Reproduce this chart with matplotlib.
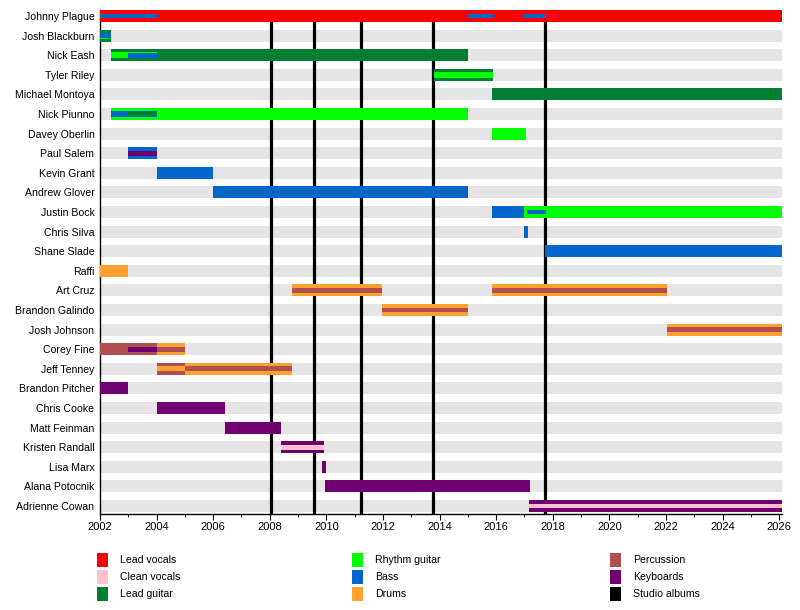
import numpy as np
import matplotlib
matplotlib.use('Agg')
import matplotlib.pyplot as plt
from matplotlib.patches import Rectangle

plt.rcParams['font.family'] = ['Liberation Sans', 'DejaVu Sans']

# band members, top to bottom
members = ['Johnny Plague', 'Josh Blackburn', 'Nick Eash', 'Tyler Riley',
           'Michael Montoya', 'Nick Piunno', 'Davey Oberlin', 'Paul Salem',
           'Kevin Grant', 'Andrew Glover', 'Justin Bock', 'Chris Silva',
           'Shane Slade', 'Raffi', 'Art Cruz', 'Brandon Galindo',
           'Josh Johnson', 'Corey Fine', 'Jeff Tenney', 'Brandon Pitcher',
           'Chris Cooke', 'Matt Feinman', 'Kristen Randall', 'Lisa Marx',
           'Alana Potocnik', 'Adrienne Cowan']

START = 2002.0
PRESENT = 2026.1

# main role (full bar): member, role, from, to
main_bars = [
    ('Johnny Plague', 'Lead vocals', 2002.0, PRESENT),
    ('Josh Blackburn', 'Lead guitar', 2002.0, 2002.4),
    ('Nick Eash', 'Lead guitar', 2002.4, 2015.0),
    ('Tyler Riley', 'Lead guitar', 2013.8, 2015.9),
    ('Michael Montoya', 'Lead guitar', 2015.85, PRESENT),
    ('Nick Piunno', 'Rhythm guitar', 2002.4, 2015.0),
    ('Davey Oberlin', 'Rhythm guitar', 2015.85, 2017.05),
    ('Paul Salem', 'Bass', 2003.0, 2004.0),
    ('Kevin Grant', 'Bass', 2004.0, 2006.0),
    ('Andrew Glover', 'Bass', 2006.0, 2015.0),
    ('Justin Bock', 'Bass', 2015.85, 2017.0),
    ('Justin Bock', 'Rhythm guitar', 2017.0, PRESENT),
    ('Chris Silva', 'Bass', 2017.0, 2017.12),
    ('Shane Slade', 'Bass', 2017.72, PRESENT),
    ('Raffi', 'Drums', 2002.0, 2003.0),
    ('Art Cruz', 'Drums', 2008.8, 2011.97),
    ('Art Cruz', 'Drums', 2015.85, 2022.05),
    ('Brandon Galindo', 'Drums', 2011.97, 2015.0),
    ('Josh Johnson', 'Drums', 2022.05, PRESENT),
    ('Corey Fine', 'Percussion', 2002.0, 2004.0),
    ('Corey Fine', 'Drums', 2004.0, 2005.0),
    ('Jeff Tenney', 'Percussion', 2004.0, 2005.0),
    ('Jeff Tenney', 'Drums', 2005.0, 2008.8),
    ('Brandon Pitcher', 'Keyboards', 2002.0, 2003.0),
    ('Chris Cooke', 'Keyboards', 2004.0, 2006.4),
    ('Matt Feinman', 'Keyboards', 2006.4, 2008.4),
    ('Kristen Randall', 'Keyboards', 2008.4, 2009.9),
    ('Lisa Marx', 'Keyboards', 2009.85, 2010.0),
    ('Alana Potocnik', 'Keyboards', 2009.95, 2017.2),
    ('Adrienne Cowan', 'Keyboards', 2017.15, PRESENT),
]

# second role (wide inner stripe)
second_bars = [
    ('Josh Blackburn', 'Rhythm guitar', 2002.0, 2002.4),
    ('Nick Eash', 'Rhythm guitar', 2002.4, 2004.0),
    ('Tyler Riley', 'Rhythm guitar', 2013.8, 2015.9),
    ('Nick Piunno', 'Bass', 2002.4, 2004.0),
]

# third role (thin inner stripe)
third_bars = [
    ('Johnny Plague', 'Bass', 2002.0, 2004.0),
    ('Johnny Plague', 'Bass', 2015.0, 2015.9),
    ('Johnny Plague', 'Bass', 2017.0, 2017.75),
    ('Josh Blackburn', 'Bass', 2002.0, 2002.4),
    ('Nick Eash', 'Bass', 2003.0, 2004.0),
    ('Nick Piunno', 'Lead guitar', 2003.0, 2004.0),
    ('Paul Salem', 'Keyboards', 2003.0, 2004.0),
    ('Justin Bock', 'Bass', 2017.1, 2017.75),
    ('Art Cruz', 'Percussion', 2008.8, 2011.97),
    ('Art Cruz', 'Percussion', 2015.85, 2022.05),
    ('Brandon Galindo', 'Percussion', 2011.97, 2015.0),
    ('Josh Johnson', 'Percussion', 2022.05, PRESENT),
    ('Corey Fine', 'Keyboards', 2003.0, 2004.0),
    ('Corey Fine', 'Percussion', 2004.0, 2005.0),
    ('Jeff Tenney', 'Drums', 2004.0, 2005.0),
    ('Jeff Tenney', 'Percussion', 2005.0, 2008.8),
    ('Kristen Randall', 'Clean vocals', 2008.4, 2009.9),
    ('Adrienne Cowan', 'Clean vocals', 2017.15, PRESENT),
]

albums = [2008.04, 2009.56, 2011.22, 2013.77, 2017.72]

roles = ['Lead vocals', 'Clean vocals', 'Lead guitar', 'Rhythm guitar', 'Bass',
         'Drums', 'Percussion', 'Keyboards', 'Studio albums']
role_colors = {'Lead vocals': '#ff0000', 'Clean vocals': '#ffc0cb',
               'Lead guitar': '#007f33', 'Rhythm guitar': '#00ff00',
               'Bass': '#0066cc', 'Drums': '#ffa030',
               'Percussion': '#af4f4f', 'Keyboards': '#700070',
               'Studio albums': '#000000'}

W, H = 800, 610
fig = plt.figure(figsize=(W / 100, H / 100), dpi=100)
ax = fig.add_axes([100 / W, 1 - 514 / H, 682 / W, 504 / H])

ypos = {m: i for i, m in enumerate(members)}
BAR_H = 0.61

# gray background rows
ax.barh(range(len(members)), PRESENT - START, left=START, height=BAR_H,
        color='#e5e5e5', zorder=1)

# studio albums
for a in albums:
    ax.axvline(a, color='black', lw=2.3, zorder=2)

for bars, h, z in [(main_bars, BAR_H, 3), (second_bars, 0.32, 4), (third_bars, 0.24, 5)]:
    for m, r, s, e in bars:
        ax.barh(ypos[m], e - s, left=s, height=h, color=role_colors[r],
                zorder=z, linewidth=0)

ax.set_xlim(START, PRESENT)
ax.set_ylim(len(members) - 0.59, -0.31)
ax.set_yticks(range(len(members)))
ax.set_yticklabels(members, fontsize=7.6)
ax.tick_params(axis='y', length=0, pad=4)
ax.set_xticks(np.arange(2002, 2027, 2))
ax.set_xticks(np.arange(2002, 2027, 1), minor=True)
ax.tick_params(axis='x', which='major', length=4, labelsize=8, pad=2)
ax.tick_params(axis='x', which='minor', length=2.5)
for sp in ['top', 'right']:
    ax.spines[sp].set_visible(False)
ax.spines['left'].set_linewidth(1)
ax.spines['bottom'].set_linewidth(1)

# legend, three columns
col_x = [97, 352, 610]
row_y = [560, 577, 594]
for k, r in enumerate(roles):
    cx = col_x[k // 3]
    cy = row_y[k % 3]
    fig.add_artist(Rectangle((cx / W, 1 - (cy + 7) / H), 11 / W, 14 / H,
                             transform=fig.transFigure,
                             color=role_colors[r], lw=0))
    fig.text((cx + 23) / W, 1 - cy / H, r, fontsize=7.6, va='center', ha='left')

fig.savefig('out.png', dpi=100)
